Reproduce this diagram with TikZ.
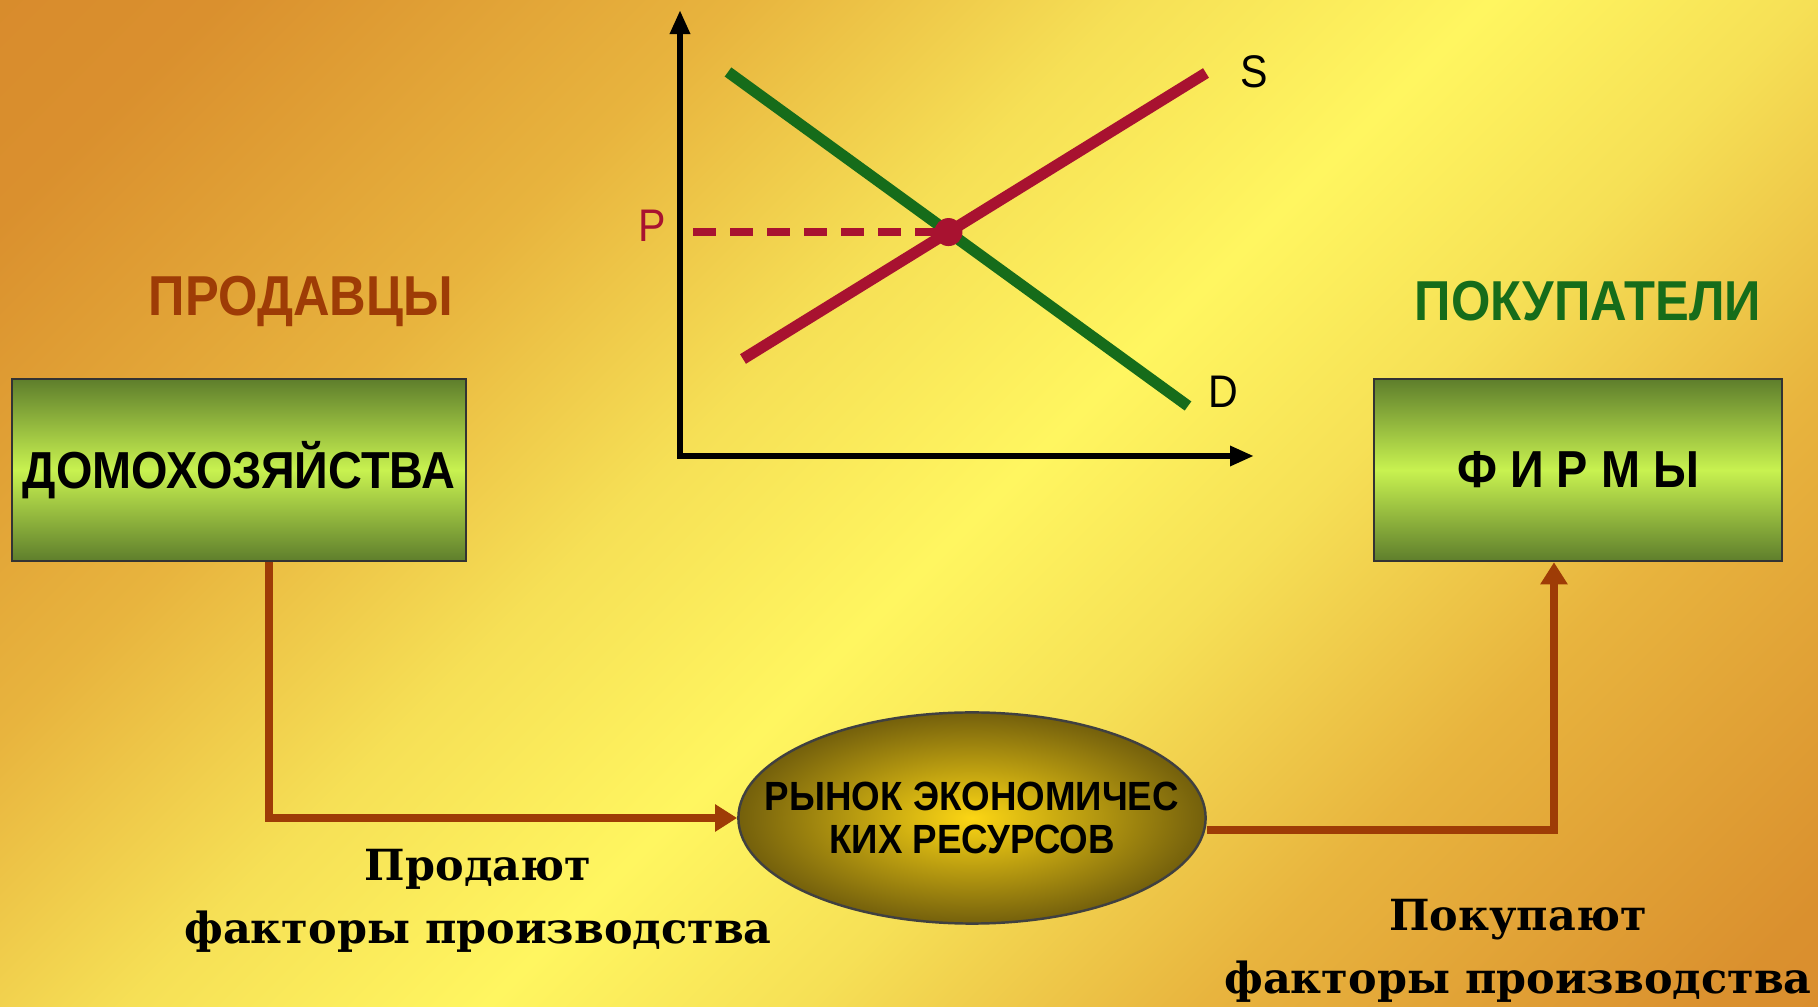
\documentclass[tikz,border=0pt]{standalone}
\usepackage{fontspec}
\setsansfont[FakeStretch=0.9]{Liberation Sans}
\newfontfamily\notefont{DejaVu Serif}
\usetikzlibrary{arrows.meta,shapes.geometric,intersections}

\definecolor{bgorange}{RGB}{212,128,40}
\definecolor{bgdeep}{RGB}{218,144,46}
\definecolor{bgwarm}{RGB}{232,180,62}
\definecolor{bgpale}{RGB}{246,224,86}
\definecolor{bgyellow}{RGB}{255,246,96}
\definecolor{bgright}{RGB}{220,132,42}
\definecolor{flowbrown}{RGB}{158,60,6}
\definecolor{leafgreen}{RGB}{22,108,26}
\definecolor{supred}{RGB}{168,18,48}
\definecolor{boxdark}{RGB}{94,126,44}
\definecolor{boxlight}{RGB}{200,242,80}
\definecolor{mktinner}{RGB}{252,214,20}
\definecolor{mktouter}{RGB}{116,96,12}

\pgfdeclarehorizontalshading{slidebg}{100bp}{color(0bp)=(bgorange); color(20bp)=(bgdeep);
  color(33bp)=(bgwarm); color(43bp)=(bgpale); color(52bp)=(bgyellow); color(60bp)=(bgpale);
  color(70bp)=(bgwarm); color(83bp)=(bgdeep); color(100bp)=(bgright)}

\begin{document}
\begin{tikzpicture}[x=0.01cm,y=-0.01cm,
  agent/.style={draw=black!80,line width=0.7pt,minimum height=1.82cm,
    inner sep=0pt,top color=boxdark,bottom color=boxdark,middle color=boxlight,
    font=\sffamily\bfseries\fontsize{14.8}{16}\selectfont},
  market/.style={ellipse,draw=black!75,line width=0.7pt,inner color=mktinner,outer color=mktouter,
    minimum width=4.67cm,minimum height=2.11cm,inner xsep=-0.45cm,inner ysep=0pt,align=center,
    font=\sffamily\bfseries\fontsize{11.6}{12}\selectfont},
  side/.style={font=\sffamily\bfseries\fontsize{16}{18}\selectfont},
  note/.style={align=center,font=\notefont\bfseries\fontsize{12.2}{18}\selectfont},
  tag/.style={font=\sffamily\fontsize{13}{14}\selectfont},
  flow/.style={draw=flowbrown,line width=2.4pt,-{Triangle[length=0.22cm,width=0.26cm]}},
  axis/.style={line width=1.7pt,{Triangle[length=0.24cm,width=0.19cm]}-{Triangle[length=0.24cm,width=0.19cm]}},
  curve/.style={line width=3.2pt}]

  % background
  \useasboundingbox (0,0) rectangle (1818,1007);
  \shade[shading=slidebg,shading angle=-45] (0,0) rectangle (1818,1007);

  % sellers and buyers
  \node[side,text=flowbrown] (sellers) at (301,301) {ПРОДАВЦЫ};
  \node[side,text=leafgreen] (buyers) at (1588,301) {ПОКУПАТЕЛИ};
  \node[agent,minimum width=4.54cm] (hh) at (239,470) {ДОМОХОЗЯЙСТВА};
  \node[agent,minimum width=4.08cm] (fm) at (1578,470) {Ф И Р М Ы};
  \node[market] (mkt) at (972,818) {РЫНОК ЭКОНОМИЧЕС\\КИХ РЕСУРСОВ};
  \node[note] (sell) at (478,901) {Продают\\факторы производства};
  \node[note] (buy) at (1518,951) {Покупают\\факторы производства};

  \draw[flow] ([xshift=0.3cm]hh.south) |- (mkt.west);
  \draw[flow] ([yshift=-0.12cm]mkt.east) -| ([xshift=-0.24cm]fm.south);

  % supply and demand
  \coordinate (ytop) at (680,10);
  \coordinate (xend) at (1254,456);
  \draw[axis] (ytop) |- (xend);
  \draw[curve,leafgreen,name path=dem] (728,72) -- (1188,406);
  \draw[curve,supred,name path=sup] (743,359) -- (1206,73);
  \path[name intersections={of=dem and sup,by=eq}];
  \draw[supred,line width=2.4pt,dash pattern=on 0.23cm off 0.14cm] (eq -| 693,0) -- (eq);
  \fill[supred] (eq) circle[radius=0.14cm];
  \node[tag,text=supred] (plab) at (652,226) {P};
  \node[tag] (slab) at (1254,72) {S};
  \node[tag] (dlab) at (1223,392) {D};
\end{tikzpicture}
\end{document}
